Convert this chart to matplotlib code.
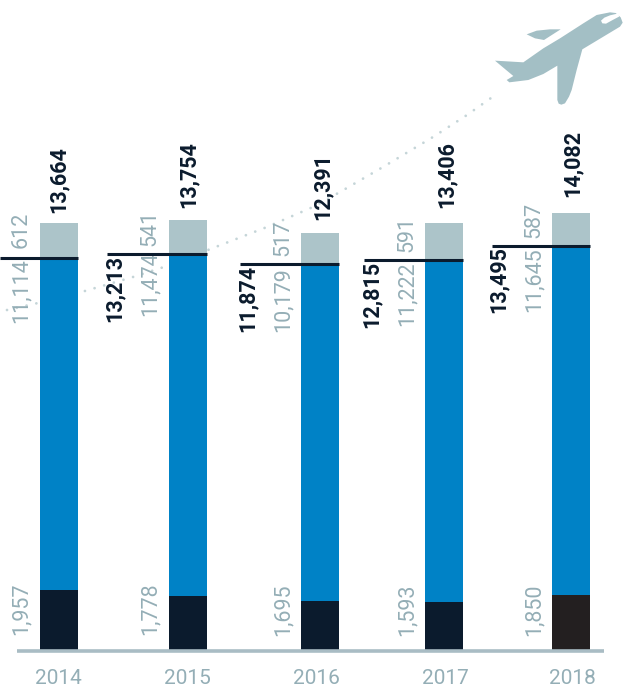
import matplotlib
matplotlib.use('Agg')
import matplotlib.pyplot as plt
from matplotlib.patches import Polygon

years = ['2014', '2015', '2016', '2017', '2018']

# printed numbers
top_total = ['13,664', '13,754', '12,391', '13,406', '14,082']
net_total = ['', '13,213', '11,874', '12,815', '13,495']
grey_lab = ['612', '541', '517', '591', '587']
blue_lab = ['11,114', '11,474', '10,179', '11,222', '11,645']
dark_lab = ['1,957', '1,778', '1,695', '1,593', '1,850']

# the bars are not quite to scale with the printed numbers, so heights are read off the picture
dark_h = [1920, 1730, 1570, 1540, 1760]
blue_h = [10620, 10940, 10780, 10940, 11170]
grey_h = [1120, 1090, 990, 1180, 1060]

bar_x = [59, 188, 320, 444, 571]
bar_w = 38
line_left = [0, 107, 240, 364, 492]
dark_col = ['#0b1b2d', '#0b1b2d', '#0b1b2d', '#0b1b2d', '#231f20']

# label spots, all in picture pixels
grey_x = [21, 150, 283, 407, 534]
net_x = [0, 115, 248, 372, 499]
top_x = [59, 189, 323, 447, 573]
year_x = [58, 187, 316, 445, 572]
top_py = [213, 208, 220, 208, 197]
net_py = [0, 322, 332, 328, 313]
grey_py = [248, 246, 256, 252, 238]
blue_py = [323, 316, 332, 326, 312]
dark_py = [635, 635, 636, 636, 636]

# dotted flight path, picture pixels
path_x = [7, 38, 78, 133, 167, 213, 267, 313, 340, 383, 433, 467, 491]
path_y = [310, 303, 293, 277, 266, 248, 227, 207, 192, 167, 137, 115, 98]

plane = [(420, 37), (380, 45), (340, 70), (270, 115), (220, 145), (160, 187), (110, 184), (75, 182),
         (100, 203), (130, 228), (110, 240), (118, 247), (175, 240), (220, 222), (262, 197), (262, 300),
         (266, 311), (274, 314), (285, 310), (297, 290), (305, 270), (320, 210), (337, 148), (450, 80),
         (458, 68), (452, 52), (437, 39)]
slit = [(393, 62), (403, 53), (420, 46), (446, 40), (447, 50), (428, 60), (408, 71), (397, 70)]
far_wing = [(170, 103), (200, 92), (240, 88), (272, 88), (222, 120), (195, 115)]

plt.rcParams['font.family'] = ['Roboto', 'DejaVu Sans']
GREY_TXT = '#94aeb6'
NAVY = '#0b1b2d'
PX = 32  # data units per pixel
BASE = 650

fig = plt.figure(figsize=(6.26, 6.91), dpi=100)

deco = fig.add_axes([0, 0, 1, 1], zorder=1)
deco.set_xlim(0, 626)
deco.set_ylim(691, 0)
deco.axis('off')

ax = fig.add_axes([0, 0, 1, 1], zorder=2)
ax.patch.set_alpha(0)
ax.set_xlim(0, 626)
ax.set_ylim(-(691 - BASE) * PX, BASE * PX)
ax.axis('off')


def to_plane(p):
    return [(470 + a / 3, b / 3) for a, b in p]


deco.add_patch(Polygon(to_plane(plane), closed=True, fc='#a3bfc5', ec='none'))
deco.add_patch(Polygon(to_plane(far_wing), closed=True, fc='#a3bfc5', ec='none'))
deco.add_patch(Polygon(to_plane(slit), closed=True, fc='white', ec='none'))
deco.plot(path_x, path_y, color='#c5d5d8', lw=2, ls=(0, (0.01, 3.6)), dash_capstyle='round')

for i in range(5):
    ax.bar(bar_x[i], dark_h[i], bar_w, color=dark_col[i], zorder=3)
    ax.bar(bar_x[i], blue_h[i], bar_w, bottom=dark_h[i], color='#0082c6', zorder=3)
    ax.bar(bar_x[i], grey_h[i], bar_w, bottom=dark_h[i] + blue_h[i], color='#acc4c9', zorder=3)
    lvl = dark_h[i] + blue_h[i]
    ax.plot([line_left[i], bar_x[i] + bar_w / 2], [lvl, lvl], color=NAVY, lw=2.2, solid_capstyle='butt', zorder=4)

ax.plot([17, 604], [-30, -30], color='#a9bcc4', lw=2.6, solid_capstyle='butt', zorder=5)


def vtext(x, py, s, **kw):
    deco.text(x, py, s, rotation=90, ha='center', va='bottom', **kw)


for i in range(5):
    vtext(top_x[i], top_py[i], top_total[i], fontsize=15.5, fontweight='bold', color=NAVY)
    if net_total[i]:
        vtext(net_x[i], net_py[i], net_total[i], fontsize=15.5, fontweight='bold', color=NAVY)
    vtext(grey_x[i], grey_py[i], grey_lab[i], fontsize=15.5, color=GREY_TXT)
    vtext(grey_x[i], blue_py[i], blue_lab[i], fontsize=15.5, color=GREY_TXT)
    vtext(grey_x[i], dark_py[i], dark_lab[i], fontsize=15.5, color=GREY_TXT)
    deco.text(year_x[i], 679, years[i], ha='center', va='center', fontsize=15, color=GREY_TXT)

fig.savefig('out.png', dpi=100)
